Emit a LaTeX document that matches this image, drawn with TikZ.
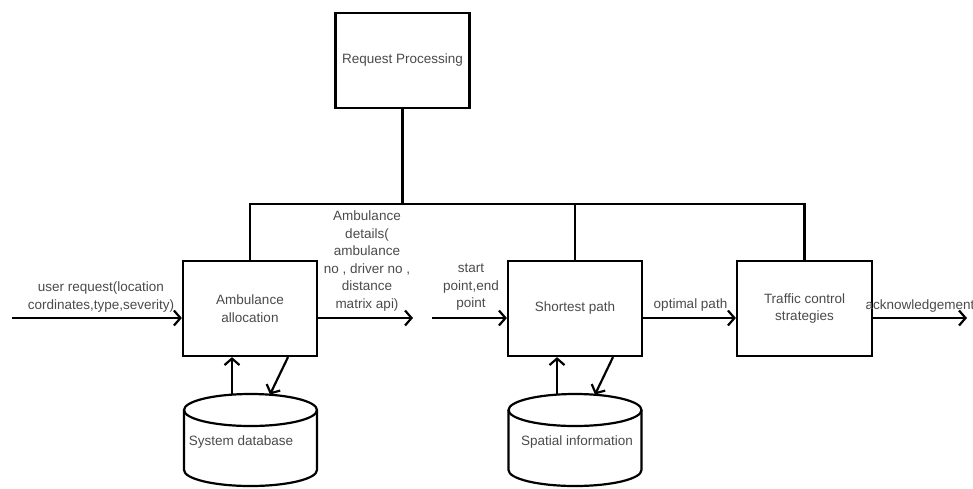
\documentclass[tikz,border=0pt]{standalone}
\usepackage{fontspec}
\setmainfont{Liberation Sans}
\usetikzlibrary{arrows.meta}
\definecolor{labelgray}{HTML}{4A4A4A}
\tikzset{
  x=1pt, y=-1pt,
  wire/.style={line width=2.2pt, black},
  flow/.style={wire, -{Straight Barb[length=6.5pt,width=15pt,line width=2.2pt]}},
  block/.style={draw, line width=2.2pt, rectangle, minimum width=134pt, minimum height=95pt,
                inner sep=0pt, align=center, text=labelgray,
                font=\fontsize{13.5}{17.5}\selectfont},
  lbl/.style={align=center, text=labelgray, inner sep=0pt,
              font=\fontsize{13.5}{17.5}\selectfont},
  store/.style={line width=2.2pt}
}
\begin{document}
\begin{tikzpicture}
\useasboundingbox (0,0) rectangle (973,488);

% processing blocks
\node[block] (req)  at (402.5,60.5) {Request Processing};
\node[block] (amb)  at (250,308.5)  {Ambulance\\allocation};
\node[block] (sp)   at (575,308.5)  {Shortest path};
\node[block, minimum width=135pt] (tc) at (804.5,308.5) {Traffic control\\strategies};

% request bus
\coordinate (bus) at (402.5,204);
\draw[wire] (req.south) -- (bus);
\draw[wire] (amb.north) |- (bus) -| (tc.north);
\draw[wire] (sp.north) -- (sp.north |- bus);

% data stores
\foreach \cx in {250.5, 575}{
  \draw[store] (\cx,410) ellipse [x radius=66.5pt, y radius=16pt];
  \draw[store] (\cx-66.5,410) -- (\cx-66.5,470)
     arc[start angle=180, end angle=360, x radius=66.5pt, y radius=16pt]
     -- (\cx+66.5,410);
}
\node[lbl] (sysdb) at (241,442) {System database};
\node[lbl] (spdb)  at (577,442) {Spatial information};

% store connectors
\coordinate (sysup)  at (232,394.5);
\coordinate (sysin)  at (270,394.5);
\coordinate (spup)   at (557,394.5);
\coordinate (spin)   at (595,394.5);
\draw[flow] (sysup) -- (sysup |- amb.south);
\draw[flow] (amb.south -| 288,0) -- (sysin);
\draw[flow] (spup) -- (spup |- sp.south);
\draw[flow] (sp.south -| 613,0) -- (spin);

% main flow
\coordinate (in)    at (12,318);
\coordinate (ambout) at (413,318);
\coordinate (spin2) at (432,318);
\coordinate (out)   at (967,318);
\draw[flow] (in) -- (in -| amb.west);
\draw[flow] (ambout -| amb.east) -- (ambout);
\draw[flow] (spin2) -- (spin2 -| sp.west);
\draw[flow] (sp.east |- 0,318) -- (tc.west |- 0,318);
\draw[flow] (tc.east |- 0,318) -- (out);

% flow labels
\node[lbl] (lreq)  at (101,297)   {user request(location\\cordinates,type,severity)};
\node[lbl] (ldet)  at (367,261)   {Ambulance\\details(\\ambulance\\no , driver no ,\\distance\\matrix api)};
\node[lbl] (lpts)  at (471,287.5) {start\\point,end\\point};
\node[lbl] (lopt)  at (690.5,305) {optimal path};
\node[lbl] (lack)  at (920,306)   {acknowledgement};
\end{tikzpicture}
\end{document}
